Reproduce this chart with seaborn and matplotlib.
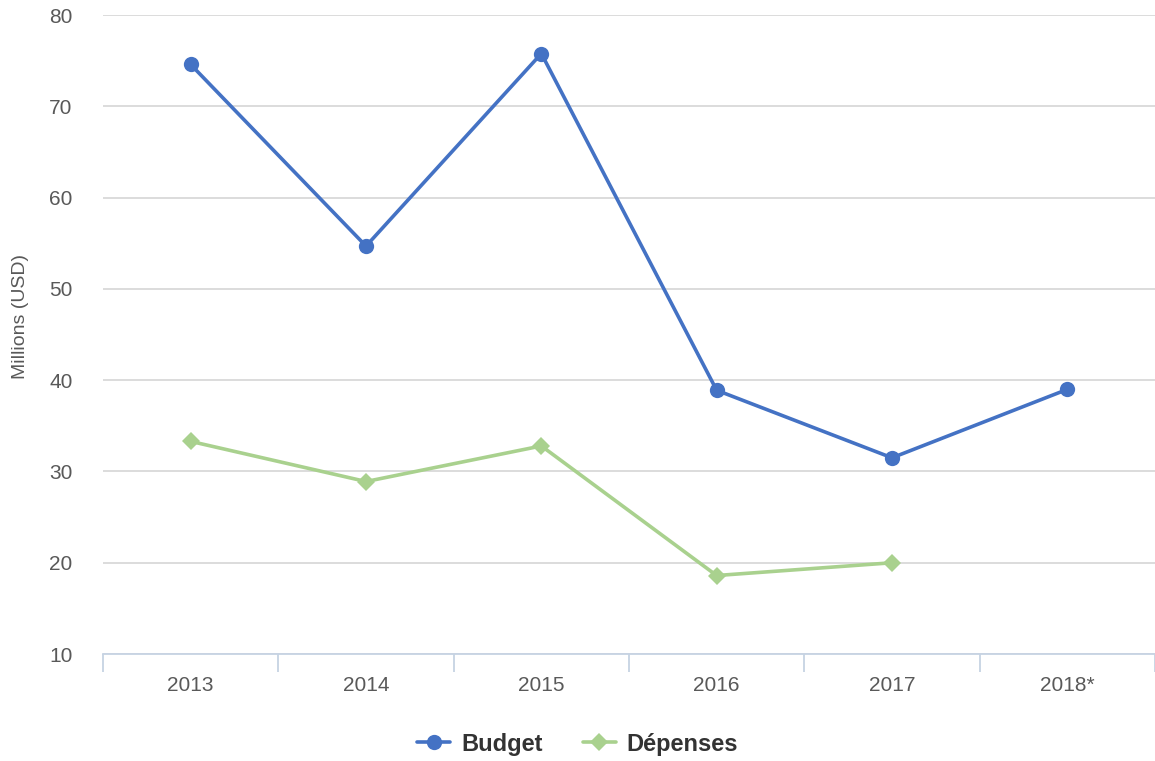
import numpy as np
import pandas as pd
import matplotlib
matplotlib.use("Agg")
import matplotlib.pyplot as plt
import seaborn as sns

years = ['2013', '2014', '2015', '2016', '2017', '2018*']
budget = [74.6, 54.7, 75.8, 38.9, 31.5, 39.0]
depenses = [33.3, 28.9, 32.8, 18.6, 20.0, np.nan]

df = pd.DataFrame({'pos': range(len(years)), 'Budget': budget, 'Dépenses': depenses})

sns.set_theme(style="white")
plt.rcParams['font.family'] = ['Liberation Sans', 'DejaVu Sans']

fig = plt.figure(figsize=(11.55, 7.61), dpi=100)
ax = fig.add_axes([0.0892, 0.1406, 0.9108, 0.8394])

sns.lineplot(data=df, x='pos', y='Budget', ax=ax, color='#4472C4', lw=2.6,
             marker='o', markersize=11, markeredgewidth=0, label='Budget')
sns.lineplot(data=df.dropna(), x='pos', y='Dépenses', ax=ax, color='#A9D18E', lw=2.6,
             marker='D', markersize=9.5, markeredgewidth=0, label='Dépenses')

ax.set_xlim(-0.5, len(years) - 0.5)
ax.set_ylim(10, 80)
ax.set_yticks(range(10, 81, 10))
ax.set_xticks(range(len(years)))
ax.set_xticklabels(years)
ax.set_xticks(np.arange(-0.5, len(years), 1), minor=True)
ax.tick_params(axis='x', which='major', bottom=False, length=0, pad=16, labelsize=15, labelcolor='#595959')
ax.tick_params(axis='x', which='minor', bottom=True, length=13, width=1.3, color='#C6D3E3', direction='out')
ax.tick_params(axis='y', left=False, length=0, pad=22, labelsize=15, labelcolor='#595959')

ax.grid(axis='y', color='#D9D9D9', lw=1.3)
ax.set_axisbelow(True)
for s in ['top', 'right', 'left']:
    ax.spines[s].set_visible(False)
ax.spines['bottom'].set_color('#C6D3E3')
ax.spines['bottom'].set_linewidth(1.3)

ax.set_xlabel('')
ax.set_ylabel('Millions (USD)', fontsize=14, color='#595959')
ax.yaxis.set_label_coords(-0.0703, 0.529)

handles, labels = ax.get_legend_handles_labels()
ax.get_legend().remove()
leg = fig.legend(handles, labels, loc='center', bbox_to_anchor=(0.5, 0.022), ncol=2,
                 frameon=False, handlelength=1.4, handletextpad=0.45, columnspacing=1.7,
                 prop={'weight': 'bold', 'size': 17})
for t in leg.get_texts():
    t.set_color('#333333')

fig.savefig('out.png', dpi=100)
